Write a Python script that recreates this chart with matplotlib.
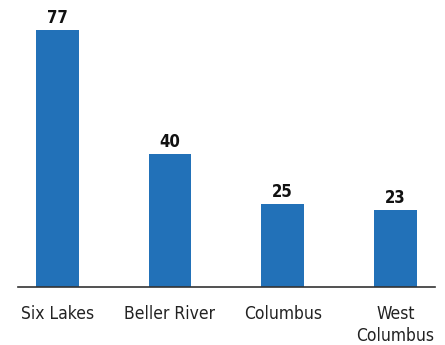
import matplotlib
matplotlib.use('Agg')
import matplotlib.pyplot as plt

categories = ['Six Lakes', 'Beller River', 'Columbus', 'West\nColumbus']
values = [77, 40, 25, 23]

plt.rcParams['font.family'] = ['DejaVu Sans']
plt.rcParams['font.stretch'] = 'condensed'

fig = plt.figure(figsize=(4.45, 3.45), dpi=100)
ax = fig.add_axes([0.040, 0.168, 0.937, 0.803])

x = range(len(categories))
bars = ax.bar(x, values, width=0.38, color='#2271b8')
for b, v in zip(bars, values):
    ax.text(b.get_x() + b.get_width() / 2, v + 0.9, str(v), ha='center', va='bottom',
            fontsize=12, fontweight='bold', color='#111111')

ax.set_xlim(-0.35, 3.35)
ax.set_ylim(0, 83)
ax.set_xticks(list(x))
ax.set_xticklabels(categories, fontsize=12.5, color='#222222', linespacing=1.3)
ax.tick_params(axis='x', length=0, pad=13)
ax.set_yticks([])
for s in ['top', 'right', 'left']:
    ax.spines[s].set_visible(False)
ax.spines['bottom'].set_color('#333333')
ax.spines['bottom'].set_linewidth(1.2)

fig.savefig('out.png', dpi=100)
